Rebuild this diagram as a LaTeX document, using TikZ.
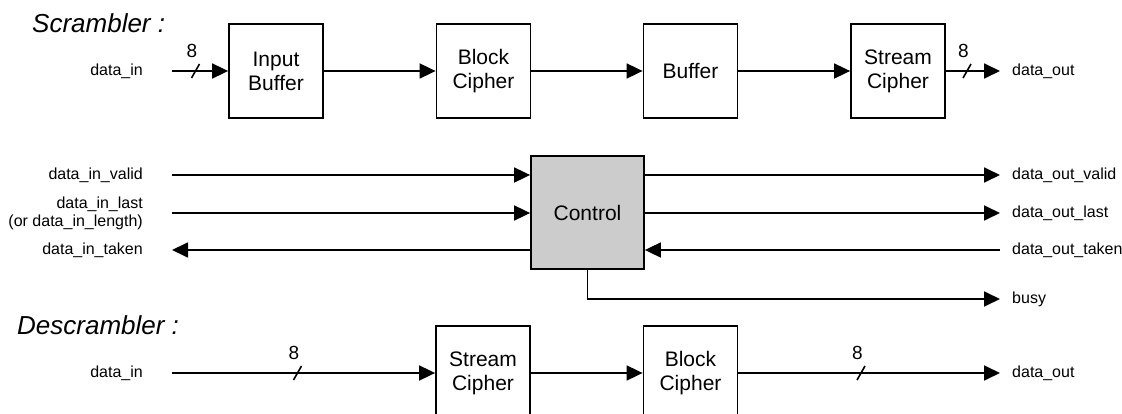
\documentclass[tikz,border=0pt]{standalone}
\usepackage{fontspec}
\setmainfont{Liberation Sans}
\usetikzlibrary{arrows.meta,calc}
\definecolor{ctrlgray}{RGB}{204,204,204}
\begin{document}
\begin{tikzpicture}[x=1pt,y=-1pt,
  wire/.style={line width=1.8pt},
  arr/.style={wire,-{Triangle[length=16pt,width=15pt]}},
  block/.style={draw,line width=1.8pt,minimum width=94pt,minimum height=94pt,
    align=center,inner sep=0pt,font=\fontsize{21}{24}\selectfont},
  ctrlbox/.style={block,fill=ctrlgray,minimum width=113pt,minimum height=113pt},
  sig/.style={inner sep=0pt,font=\fontsize{16}{18}\selectfont},
  sigL/.style={sig,anchor=east,align=right},
  sigR/.style={sig,anchor=west},
  heading/.style={inner sep=0pt,anchor=west,font=\fontsize{26}{30}\selectfont\itshape},
  buswidth/.pic={
    \draw[line width=1.6pt] (-4,7) -- (4,-7);
    \node[inner sep=0pt,font=\fontsize{19}{20}\selectfont] at (-3.5,-20) {8};
  }]
\useasboundingbox (0,0) rectangle (1122,414);
\clip (0,0) rectangle (1122,414);

% ---------- Scrambler ----------
\node[heading] (hscr) at (32,23) {Scrambler :};

\node[block] (ib) at (276,71) {Input\\Buffer};
\node[block] (bc) at (483.5,71) {Block\\Cipher};
\node[block] (bf) at (690.5,71) {Buffer};
\node[block] (sc) at (898,71) {Stream\\Cipher};

\coordinate (sin) at (172,71);
\coordinate (sout) at (1000,71);
\node[sigL] (lsin) at (143,71) {data\_in};
\node[sigR] (lsout) at (1012,71) {data\_out};

\draw[arr] (sin) -- (ib.west);
\draw[arr] (ib.east) -- (bc.west);
\draw[arr] (bc.east) -- (bf.west);
\draw[arr] (bf.east) -- (sc.west);
\draw[arr] (sc.east) -- (sout);
\pic at (195.5,71) {buswidth};
\pic at (967,71) {buswidth};

% ---------- Control ----------
\node[ctrlbox] (ctrl) at (587.5,212.5) {Control};

\coordinate (ivalid) at (172,175);
\coordinate (ilast) at (172,213);
\coordinate (itaken) at (172,250);
\coordinate (ovalid) at (1000,175);
\coordinate (olast) at (1000,213);
\coordinate (otaken) at (1000,250);
\coordinate (obusy) at (1000,299);

\node[sigL] (livalid) at (143,175) {data\_in\_valid};
\node[sigL] (lilast) at (143,213) {data\_in\_last\\(or data\_in\_length)};
\node[sigL] (litaken) at (143,250) {data\_in\_taken};
\node[sigR] (lovalid) at (1012,175) {data\_out\_valid};
\node[sigR] (lolast) at (1012,213) {data\_out\_last};
\node[sigR] (lotaken) at (1012,250) {data\_out\_taken};
\node[sigR] (lobusy) at (1012,299) {busy};

\draw[arr] (ivalid) -- (ivalid -| ctrl.west);
\draw[arr] (ilast) -- (ilast -| ctrl.west);
\draw[arr] (itaken -| ctrl.west) -- (itaken);
\draw[arr] (ovalid -| ctrl.east) -- (ovalid);
\draw[arr] (olast -| ctrl.east) -- (olast);
\draw[arr] (otaken) -- (otaken -| ctrl.east);
\draw[arr] (ctrl.south) |- (obusy);

% ---------- Descrambler ----------
\node[heading] (hdes) at (17,325) {Descrambler :};

\node[block] (dsc) at (483,373) {Stream\\Cipher};
\node[block] (dbc) at (690.5,373) {Block\\Cipher};

\coordinate (din) at (172,373);
\coordinate (dout) at (1000,373);
\node[sigL] (ldin) at (143,373) {data\_in};
\node[sigR] (ldout) at (1012,373) {data\_out};

\draw[arr] (din) -- (dsc.west);
\draw[arr] (dsc.east) -- (dbc.west);
\draw[arr] (dbc.east) -- (dout);
\pic at (297.5,373) {buswidth};
\pic at (861,373) {buswidth};
\end{tikzpicture}
\end{document}
